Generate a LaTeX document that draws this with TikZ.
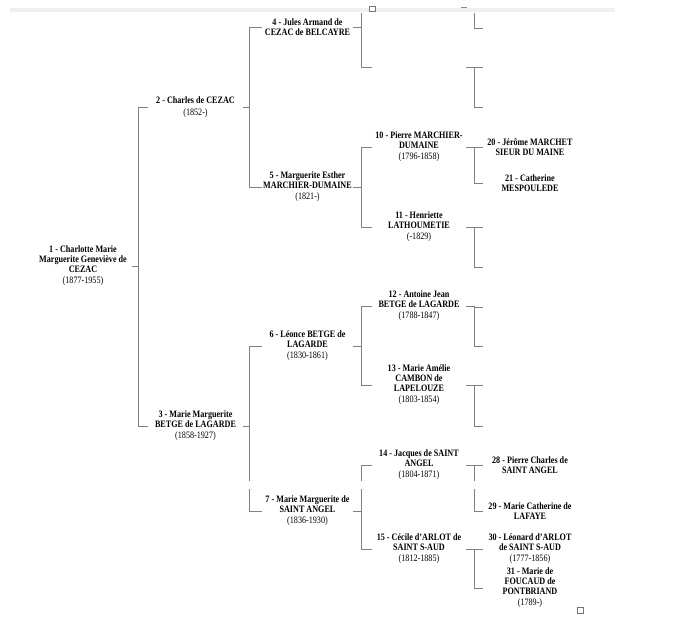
\documentclass[tikz,border=0pt]{standalone}
\usepackage{fontspec}
\setmainfont{Liberation Serif}[FakeStretch=0.83]
\usepackage{tikz}
\usetikzlibrary{positioning}
\tikzstyle{person} = [align=center, inner xsep=0pt, inner ysep=0pt, text=black, font=\fontsize{9.8}{9.8}\selectfont\bfseries]
\tikzstyle{gen1} = [person, minimum width=98pt]
\tikzstyle{gen2} = [person, minimum width=95pt]
\tikzstyle{gen3} = [person, minimum width=91pt]
\tikzstyle{gen4} = [person, minimum width=94pt]
\tikzstyle{gen5} = [person, minimum width=94pt]
\tikzstyle{link} = [draw, black!50, line width=0.9pt]
\newcommand{\yrs}[1]{\\[1.6pt]{\mdseries(#1)}}

\begin{document}
\begin{tikzpicture}[x=1pt, y=-1pt]
  \useasboundingbox (0,0) rectangle (696,637);
  % generations 1 to 3
  \node[gen1] (n1) at (83,266) {1 - Charlotte Marie\\Marguerite Geneviève de\\CEZAC\yrs{1877-1955}};
  \node[gen2] (n2) at (195.5,107) {2 - Charles de CEZAC\yrs{1852-}};
  \node[gen2] (n3) at (195.5,426) {3 - Marie Marguerite\\BETGE de LAGARDE\yrs{1858-1927}};
  \node[gen3] (n4) at (307.5,27) {4 - Jules Armand de\\CEZAC de BELCAYRE};
  \node[gen3] (n5) at (307.5,187) {5 - Marguerite Esther\\MARCHIER-DUMAINE\yrs{1821-}};
  \node[gen3] (n6) at (307.5,346) {6 - Léonce BETGE de\\LAGARDE\yrs{1830-1861}};
  \node[gen3] (n7) at (307.5,511) {7 - Marie Marguerite de\\SAINT ANGEL\yrs{1836-1930}};
  % generation 4
  \node[gen4] (n8) at (419,-12) {};
  \node[gen4] (n9) at (419,67) {};
  \node[gen4] (n10) at (419,147) {10 - Pierre MARCHIER-\\DUMAINE\yrs{1796-1858}};
  \node[gen4] (n11) at (419,227) {11 - Henriette\\LATHOUMETIE\yrs{-1829}};
  \node[gen4] (n12) at (419,306) {12 - Antoine Jean\\BETGE de LAGARDE\yrs{1788-1847}};
  \node[gen4] (n13) at (419,385) {13 - Marie Amélie\\CAMBON de\\LAPELOUZE\yrs{1803-1854}};
  \node[gen4] (n14) at (419,465) {14 - Jacques de SAINT\\ANGEL\yrs{1804-1871}};
  \node[gen4] (n15) at (419,549) {15 - Cécile d'ARLOT de\\SAINT S-AUD\yrs{1812-1885}};
  % generation 5
  \node[gen5] (n16) at (530,-12) {};
  \node[gen5] (n17) at (530,28) {};
  \node[gen5] (n18) at (530,67) {};
  \node[gen5] (n19) at (530,107) {};
  \node[gen5] (n20) at (530,147) {20 - Jérôme MARCHET\\SIEUR DU MAINE};
  \node[gen5] (n21) at (530,183) {21 - Catherine\\MESPOULEDE};
  \node[gen5] (n22) at (530,227) {};
  \node[gen5] (n23) at (530,267) {};
  \node[gen5] (n24) at (530,307) {};
  \node[gen5] (n25) at (530,346) {};
  \node[gen5] (n26) at (530,385) {};
  \node[gen5] (n27) at (530,426) {};
  \node[gen5] (n28) at (530,465) {28 - Pierre Charles de\\SAINT ANGEL};
  \node[gen5] (n29) at (530,511) {29 - Marie Catherine de\\LAFAYE};
  \node[gen5] (n30) at (530,549) {30 - Léonard d'ARLOT\\de SAINT S-AUD\yrs{1777-1856}};
  \node[gen5] (n31) at (530,588) {31 - Marie de\\FOUCAUD de\\PONTBRIAND\yrs{1789-}};

  % brackets
  \draw[link] (n2.west) -- ++(-9,0) coordinate (b1) |- (n3.west);
  \draw[link] (n1.east) -- (n1.east -| b1);
  \draw[link] (n4.west) -- ++(-12,0) coordinate (b2) |- (n5.west);
  \draw[link] (n2.east) -- (n2.east -| b2);
  \draw[link] (n6.west) -- ++(-12,0) coordinate (b3) |- (n7.west);
  \draw[link] (n3.east) -- (n3.east -| b3);
  \draw[link] (n8.west) -- ++(-10,0) coordinate (b4) |- (n9.west);
  \draw[link] (n4.east) -- (n4.east -| b4);
  \draw[link] (n10.west) -- ++(-10,0) coordinate (b5) |- (n11.west);
  \draw[link] (n5.east) -- (n5.east -| b5);
  \draw[link] (n12.west) -- ++(-10,0) coordinate (b6) |- (n13.west);
  \draw[link] (n6.east) -- (n6.east -| b6);
  \draw[link] (n14.west) -- ++(-10,0) coordinate (b7) |- (n15.west);
  \draw[link] (n7.east) -- (n7.east -| b7);
  \draw[link] (n16.west) -- ++(-8,0) coordinate (b8) |- (n17.west);
  \draw[link] (n8.east) -- (n8.east -| b8);
  \draw[link] (n18.west) -- ++(-8,0) coordinate (b9) |- (n19.west);
  \draw[link] (n9.east) -- (n9.east -| b9);
  \draw[link] (n20.west) -- ++(-8,0) coordinate (b10) |- (n21.west);
  \draw[link] (n10.east) -- (n10.east -| b10);
  \draw[link] (n22.west) -- ++(-8,0) coordinate (b11) |- (n23.west);
  \draw[link] (n11.east) -- (n11.east -| b11);
  \draw[link] (n24.west) -- ++(-8,0) coordinate (b12) |- (n25.west);
  \draw[link] (n12.east) -- (n12.east -| b12);
  \draw[link] (n26.west) -- ++(-8,0) coordinate (b13) |- (n27.west);
  \draw[link] (n13.east) -- (n13.east -| b13);
  \draw[link] (n28.west) -- ++(-8,0) coordinate (b14) |- (n29.west);
  \draw[link] (n14.east) -- (n14.east -| b14);
  \draw[link] (n30.west) -- ++(-8,0) coordinate (b15) |- (n31.west);
  \draw[link] (n15.east) -- (n15.east -| b15);

  % page edges
  \fill[white] (240,481) rectangle (490,489);
  \fill[white] (0,0) rectangle (696,13);
  \fill[black!6] (10,7.5) rectangle (615,11.5);
  \draw[black!45, line width=0.6pt] (461,7) -- (467,7);
  \draw[black!55, fill=white, line width=0.6pt] (369,6.5) rectangle (375,11.5);
  \draw[black!55, fill=white, line width=0.6pt] (577,607) rectangle (583,613);
\end{tikzpicture}
\end{document}
